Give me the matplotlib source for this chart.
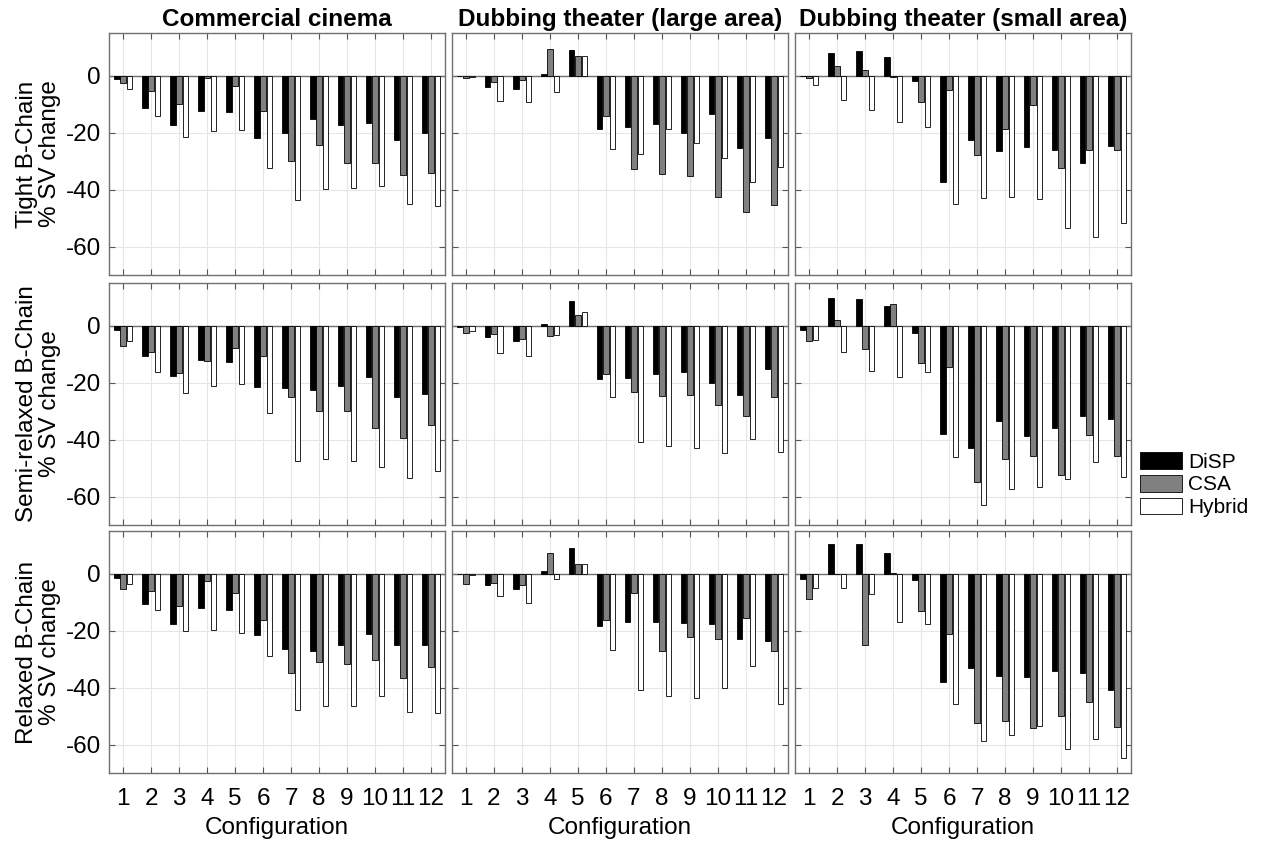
import numpy as np
import matplotlib.pyplot as plt
from matplotlib.patches import Patch

plt.rcParams['font.family'] = ['Liberation Sans', 'DejaVu Sans']
plt.rcParams['axes.unicode_minus'] = False

configs = np.arange(1, 13)
col_titles = ['Commercial cinema', 'Dubbing theater (large area)', 'Dubbing theater (small area)']
row_labels = ['Tight B-Chain\n% SV change', 'Semi-relaxed B-Chain\n% SV change', 'Relaxed B-Chain\n% SV change']
series_names = ['DiSP', 'CSA', 'Hybrid']
series_colors = ['black', '#808080', 'white']

# Tight B-Chain
tight_cinema_disp = [-1.3, -11.2, -17.4, -12.3, -12.9, -21.9, -20.0, -15.3, -17.4, -16.7, -22.7, -20.2]
tight_cinema_csa = [-2.7, -5.3, -10.1, -0.7, -3.6, -12.5, -29.9, -24.5, -30.8, -30.8, -34.8, -34.2]
tight_cinema_hybrid = [-4.8, -14.3, -21.5, -19.5, -18.9, -32.5, -43.5, -39.8, -39.3, -38.9, -45.0, -45.6]
tight_large_disp = [-0.2, -4.0, -4.8, 0.5, 9.2, -18.6, -18.1, -16.8, -20.2, -13.5, -25.4, -21.9]
tight_large_csa = [-0.9, -2.1, -1.5, 9.4, 6.9, -14.0, -32.6, -34.6, -35.4, -42.7, -48.0, -45.3]
tight_large_hybrid = [-0.5, -8.9, -9.3, -5.8, 6.9, -25.6, -27.5, -18.8, -23.8, -28.8, -37.4, -32.0]
tight_small_disp = [-0.2, 8.1, 8.8, 6.4, -1.9, -37.5, -22.7, -26.6, -25.2, -26.2, -30.6, -24.7]
tight_small_csa = [-0.9, 3.4, 2.0, -0.6, -9.2, -4.9, -27.9, -18.8, -10.4, -32.4, -26.2, -26.2]
tight_small_hybrid = [-3.2, -8.4, -12.1, -16.2, -18.1, -44.9, -43.0, -42.7, -43.4, -53.5, -56.5, -51.9]

# Semi-relaxed B-Chain
semi_cinema_disp = [-1.6, -10.6, -17.5, -12.0, -12.8, -21.4, -21.8, -22.5, -21.1, -17.9, -25.2, -24.1]
semi_cinema_csa = [-7.3, -9.1, -16.5, -12.4, -7.9, -10.6, -24.9, -30.0, -30.0, -35.8, -39.3, -34.8]
semi_cinema_hybrid = [-5.2, -16.4, -23.8, -21.3, -20.5, -30.6, -47.6, -46.8, -47.4, -49.6, -53.4, -51.0]
semi_large_disp = [-0.5, -3.8, -5.3, 0.7, 8.7, -18.6, -18.5, -16.8, -16.1, -20.2, -24.2, -15.3]
semi_large_csa = [-2.4, -2.8, -4.6, -3.6, 3.6, -16.9, -23.4, -24.8, -24.5, -28.0, -31.6, -24.9]
semi_large_hybrid = [-1.8, -9.6, -10.6, -3.2, 4.9, -24.9, -40.7, -42.4, -42.8, -44.7, -39.9, -44.4]
semi_small_disp = [-1.5, 9.9, 9.5, 6.8, -2.6, -38.1, -42.9, -33.6, -38.8, -36.1, -31.6, -32.7]
semi_small_csa = [-5.4, 1.9, -8.2, 7.6, -13.2, -14.4, -54.8, -46.8, -45.6, -52.4, -38.5, -45.9]
semi_small_hybrid = [-5.1, -9.1, -15.8, -17.9, -16.2, -46.0, -62.9, -57.5, -56.6, -53.8, -48.0, -53.1]

# Relaxed B-Chain
relaxed_cinema_disp = [-1.5, -10.7, -17.5, -12.2, -12.6, -21.4, -26.5, -27.0, -24.9, -21.2, -25.0, -25.2]
relaxed_cinema_csa = [-5.4, -6.0, -11.5, -2.5, -6.7, -16.1, -34.9, -30.9, -31.7, -30.2, -36.6, -32.9]
relaxed_cinema_hybrid = [-3.5, -12.8, -20.1, -19.7, -21.0, -29.0, -48.0, -46.5, -46.6, -43.1, -48.6, -48.8]
relaxed_large_disp = [-0.2, -3.8, -5.3, 0.9, 8.9, -18.5, -16.9, -16.8, -17.4, -17.5, -23.1, -23.5]
relaxed_large_csa = [-3.6, -3.2, -3.9, 7.4, 3.5, -16.2, -6.8, -27.2, -22.4, -22.9, -15.5, -27.3]
relaxed_large_hybrid = [-0.6, -7.9, -10.3, -2.0, 3.5, -26.8, -40.7, -43.1, -43.5, -40.1, -32.3, -45.9]
relaxed_small_disp = [-2.0, 10.3, 10.6, 7.4, -2.2, -38.0, -33.2, -35.8, -36.2, -34.2, -34.9, -41.0]
relaxed_small_csa = [-9.0, -0.2, -24.9, 0.1, -13.0, -21.1, -52.6, -51.8, -54.2, -50.1, -45.0, -54.0]
relaxed_small_hybrid = [-5.0, -5.0, -7.3, -17.0, -17.5, -45.7, -58.9, -56.6, -53.6, -61.4, -58.0, -64.7]

panels = [
    [(tight_cinema_disp, tight_cinema_csa, tight_cinema_hybrid),
     (tight_large_disp, tight_large_csa, tight_large_hybrid),
     (tight_small_disp, tight_small_csa, tight_small_hybrid)],
    [(semi_cinema_disp, semi_cinema_csa, semi_cinema_hybrid),
     (semi_large_disp, semi_large_csa, semi_large_hybrid),
     (semi_small_disp, semi_small_csa, semi_small_hybrid)],
    [(relaxed_cinema_disp, relaxed_cinema_csa, relaxed_cinema_hybrid),
     (relaxed_large_disp, relaxed_large_csa, relaxed_large_hybrid),
     (relaxed_small_disp, relaxed_small_csa, relaxed_small_hybrid)],
]

W, H = 1272, 842
fig = plt.figure(figsize=(W / 100, H / 100), dpi=100)

col_left = [109, 452, 795]
row_top = [33, 283, 531]
ax_w, ax_h = 336, 242
offsets = [-0.22, 0.0, 0.22]

for r in range(3):
    for c in range(3):
        ax = fig.add_axes([col_left[c] / W, 1 - (row_top[r] + ax_h) / H, ax_w / W, ax_h / H])
        for k, vals in enumerate(panels[r][c]):
            ax.bar(configs + offsets[k], vals, width=0.19, color=series_colors[k],
                   edgecolor='black', linewidth=0.6, zorder=3)
        # bar baseline at zero
        ax.axhline(0, color='#707070', lw=1.0, zorder=2)
        ax.set_xlim(0.5, 12.5)
        ax.set_ylim(-70, 15)
        ax.set_xticks(configs)
        ax.set_yticks([-60, -40, -20, 0])
        ax.grid(True, color='#e6e6e6', lw=0.8, zorder=0)
        ax.set_axisbelow(True)
        ax.tick_params(direction='in', length=4, top=True, right=True,
                       color='#555555', labelsize=17.5)
        ax.tick_params(axis='x', pad=11)
        ax.tick_params(axis='y', pad=6)
        for sp in ax.spines.values():
            sp.set_color('#707070')
            sp.set_linewidth(1.0)
        if c == 0:
            ax.set_ylabel(row_labels[r], fontsize=17.5, labelpad=3, linespacing=1.05)
        else:
            ax.tick_params(labelleft=False)
        if r == 2:
            ax.set_xlabel('Configuration', fontsize=17.5, labelpad=5)
        else:
            ax.tick_params(labelbottom=False)
        if r == 0:
            ax.set_title(col_titles[c], fontsize=17.5, fontweight='bold', pad=5)

handles = [Patch(facecolor=series_colors[k], edgecolor='black', linewidth=0.6, label=series_names[k])
           for k in range(3)]
fig.legend(handles=handles, loc='upper left', bbox_to_anchor=(1132 / W, 1 - 444 / H),
           frameon=False, fontsize=15, handlelength=2.0, handleheight=0.85,
           handletextpad=0.3, labelspacing=0.15, borderaxespad=0)

fig.savefig('out.png', dpi=100)
